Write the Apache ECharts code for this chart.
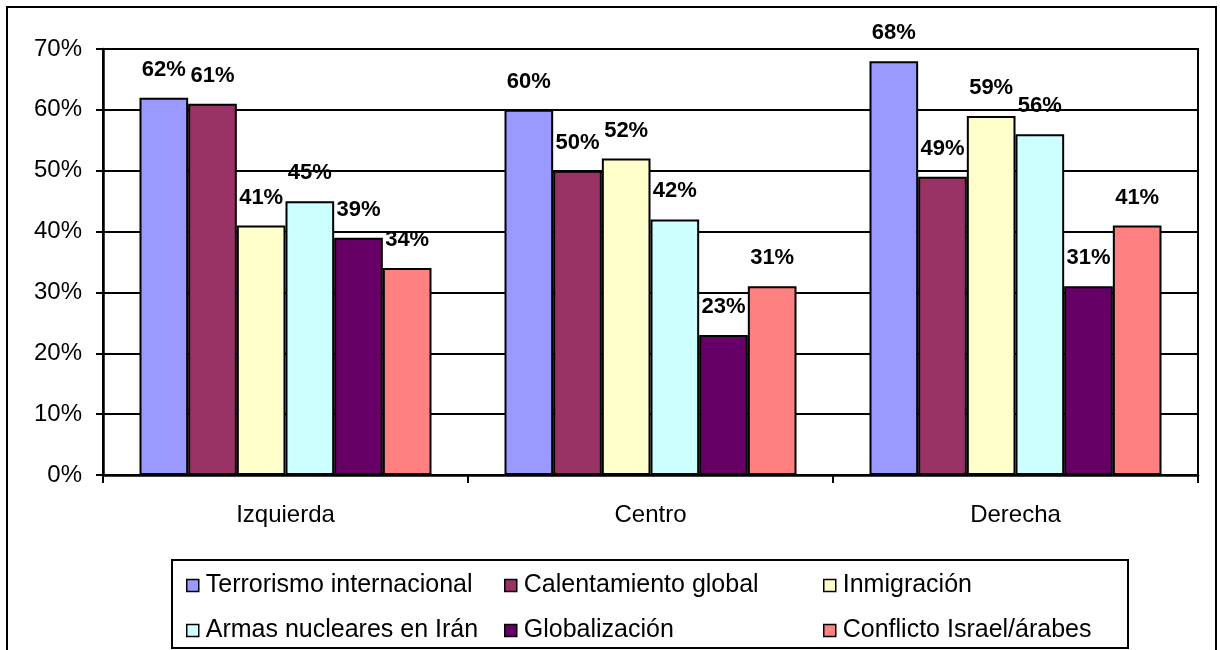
<!DOCTYPE html>
<html>
<head>
<meta charset="utf-8">
<script src="https://cdn.jsdelivr.net/npm/echarts@6/dist/echarts.min.js"></script>
<style>
  html, body { margin: 0; padding: 0; background: #fff; }
  #chart { width: 1220px; height: 650px; }
</style>
</head>
<body>
<div id="chart"></div>
<script>
const categories = ['Izquierda', 'Centro', 'Derecha']
const seriesNames = [
  'Terrorismo internacional',
  'Calentamiento global',
  'Inmigración',
  'Armas nucleares en Irán',
  'Globalización',
  'Conflicto Israel/árabes'
]
const terrorismo = [62, 60, 68]
const calentamiento = [61, 50, 49]
const inmigracion = [41, 52, 59]
const armas = [45, 42, 56]
const globalizacion = [39, 23, 31]
const conflicto = [34, 31, 41]
const seriesValues = [terrorismo, calentamiento, inmigracion, armas, globalizacion, conflicto]
const colors = ['#9999FF', '#993366', '#FFFFCC', '#CCFFFF', '#660066', '#FF8080']

const font = 'Liberation Sans, Arial, sans-serif'

const chart = echarts.init(document.getElementById('chart'))

const legendCol = (left, names) => ({
  orient: 'vertical',
  left: left,
  top: 568,
  itemWidth: 12,
  itemHeight: 12,
  itemGap: 20,
  icon: 'rect',
  data: names,
  itemStyle: { borderColor: '#000', borderWidth: 1.5 },
  textStyle: {
    fontFamily: font,
    fontSize: 25,
    color: '#000',
    padding: [0, 0, 0, 2]
  }
})

const option = {
  animation: false,
  backgroundColor: '#fff',
  color: colors,
  grid: {
    left: 103,
    top: 49,
    right: 22,
    bottom: 175,
    show: true,
    borderColor: '#000',
    borderWidth: 2,
    containLabel: false
  },
  legend: [
    legendCol(181, [seriesNames[0], seriesNames[3]]),
    legendCol(499, [seriesNames[1], seriesNames[4]]),
    legendCol(818, [seriesNames[2], seriesNames[5]])
  ],
  xAxis: {
    type: 'category',
    data: categories,
    axisLine: { lineStyle: { color: '#000', width: 2.5 } },
    axisTick: { show: true, length: 8, lineStyle: { color: '#000', width: 2 } },
    axisLabel: {
      color: '#000',
      fontFamily: font,
      fontSize: 24,
      margin: 28
    }
  },
  yAxis: {
    type: 'value',
    min: 0,
    max: 70,
    interval: 10,
    axisLine: { show: true, lineStyle: { color: '#000', width: 2.5 } },
    axisTick: { show: true, length: 7, lineStyle: { color: '#000', width: 2 } },
    axisLabel: {
      formatter: '{value}%',
      color: '#000',
      fontFamily: font,
      fontSize: 24,
      margin: 21
    },
    splitLine: { lineStyle: { color: '#000', width: 2 } }
  },
  graphic: [
    {
      type: 'rect',
      shape: { x: 7, y: 7, width: 1209, height: 660 },
      style: { fill: 'none', stroke: '#000', lineWidth: 2 },
      silent: true
    },
    {
      type: 'rect',
      shape: { x: 172, y: 560, width: 956, height: 88 },
      style: { fill: 'none', stroke: '#000', lineWidth: 2 },
      silent: true
    }
  ],
  series: seriesNames.map((name, i) => ({
    name: name,
    type: 'bar',
    data: seriesValues[i],
    barGap: 0,
    barCategoryGap: '20%',
    itemStyle: {
      color: colors[i],
      borderColor: '#000',
      borderWidth: 2
    },
    label: {
      show: true,
      position: 'top',
      distance: 17,
      formatter: '{c}%',
      color: '#000',
      fontFamily: font,
      fontSize: 22,
      fontWeight: 'bold'
    }
  }))
}

chart.setOption(option)
</script>
</body>
</html>
